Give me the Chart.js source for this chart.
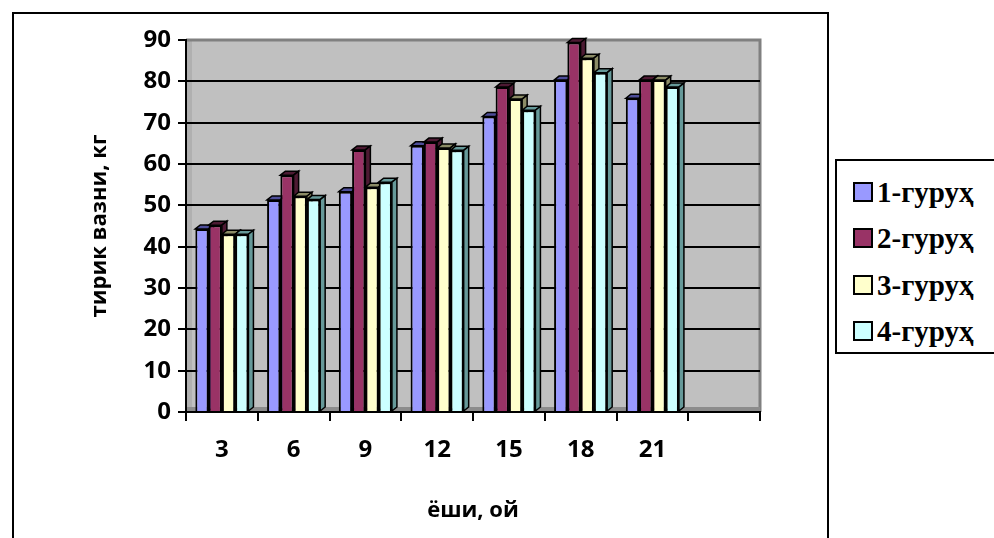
<!DOCTYPE html>
<html>
<head>
<meta charset="utf-8">
<script src="https://cdn.jsdelivr.net/npm/chart.js@4.4.1/dist/chart.umd.min.js"></script>
<style>
  body { margin: 0; background: #fff; overflow: hidden; }
  #wrap { position: relative; width: 994px; height: 538px; }
  #legend {
    position: absolute; left: 835px; top: 159px; width: 170px; height: 191px;
    border: 2px solid #000; background: #fff;
    font-family: "Liberation Serif", serif; font-weight: bold; font-size: 29px;
  }
  .item { position: absolute; left: 16px; height: 30px; line-height: 30px; white-space: nowrap; }
  .sw { display: inline-block; width: 16px; height: 16px; border: 2px solid #000; vertical-align: 0px; margin-right: 4px; }
</style>
</head>
<body>
<div id="wrap">
  <canvas id="chart" width="994" height="538"></canvas>
  <div id="legend"></div>
</div>
<script>
// ages (months) and live weight of the four groups, kg
var ages = ["3", "6", "9", "12", "15", "18", "21", ""];
var group1 = [44.3, 51.3, 53.3, 64.4, 71.5, 80.3, 75.9, null];
var group2 = [45.2, 57.3, 63.4, 65.3, 78.6, 89.4, 80.3, null];
var group3 = [43.0, 52.2, 54.4, 63.9, 75.7, 85.6, 80.3, null];
var group4 = [43.0, 51.4, 55.6, 63.3, 73.0, 82.1, 78.6, null];
var groupNames = ["1-гуруҳ", "2-гуруҳ", "3-гуруҳ", "4-гуруҳ"];

var colors = ["#9999FF", "#993366", "#FFFFCC", "#CCFFFF"];
var shades = ["#4d4d99", "#4d1a33", "#8c8c66", "#669999"];

/* ========== background, border, fake 3D ========== */

var frame = {
  id: "frame",
  beforeDraw(chart) {
    const ctx = chart.ctx, a = chart.chartArea;
    ctx.save();
    ctx.fillStyle = "#fff";
    ctx.fillRect(0, 0, chart.width, chart.height);
    ctx.strokeStyle = "#000";
    ctx.lineWidth = 2;
    ctx.strokeRect(13, 13, 815, 540);
    ctx.fillStyle = "#C0C0C0";
    ctx.fillRect(a.left, a.top, a.right - a.left, a.bottom - a.top);
    // left side wall
    ctx.fillStyle = "#b0b0b0";
    ctx.fillRect(a.left, a.top, 6, a.bottom - a.top);
    ctx.strokeStyle = "#808080";
    ctx.lineWidth = 3;
    ctx.beginPath();
    ctx.moveTo(a.left, a.top);
    ctx.lineTo(a.right, a.top);
    ctx.lineTo(a.right, a.bottom);
    ctx.stroke();
    // floor strip
    ctx.fillStyle = "#8c8c8c";
    ctx.fillRect(a.left, a.bottom - 5, a.right - a.left, 5);
    ctx.restore();
  },
  beforeDatasetsDraw(chart) {
    const ctx = chart.ctx;
    const dx = 5, dy = 4;
    ctx.save();
    ctx.strokeStyle = "#000";
    ctx.lineWidth = 1.5;
    chart.data.datasets.forEach((ds, i) => {
      chart.getDatasetMeta(i).data.forEach((bar, j) => {
        if (ds.data[j] == null || isNaN(bar.y)) return;
        const l = bar.x - bar.width / 2, r = bar.x + bar.width / 2;
        const y = bar.y, b = bar.base;
        ctx.fillStyle = shades[i];
        ctx.beginPath();
        ctx.moveTo(l, y); ctx.lineTo(l + dx, y - dy); ctx.lineTo(r + dx, y - dy); ctx.lineTo(r, y);
        ctx.closePath(); ctx.fill(); ctx.stroke();
        ctx.beginPath();
        ctx.moveTo(r, y); ctx.lineTo(r + dx, y - dy); ctx.lineTo(r + dx, b - dy); ctx.lineTo(r, b);
        ctx.closePath(); ctx.fill(); ctx.stroke();
      });
    });
    ctx.restore();
  }
};

var tickFont = { family: "'Open Sans', sans-serif", weight: "bold", size: 24 };
var titleFont = { family: "'Open Sans', sans-serif", weight: "bold", size: 22 };

new Chart(document.getElementById("chart"), {
  type: "bar",
  data: {
    labels: ages,
    datasets: [group1, group2, group3, group4].map((d, i) => ({
      label: groupNames[i],
      data: d,
      backgroundColor: colors[i],
      borderColor: "#000",
      borderWidth: 2,
      categoryPercentage: 0.74,
      barPercentage: 1
    }))
  },
  options: {
    responsive: false,
    animation: false,
    layout: { padding: { left: 84, top: 40, right: 234, bottom: 14 } },
    plugins: { legend: { display: false }, tooltip: { enabled: false } },
    scales: {
      x: {
        grid: { offset: true, drawOnChartArea: false, color: "#000", lineWidth: 2, tickLength: 9 },
        border: { color: "#000", width: 2 },
        ticks: { font: tickFont, color: "#000", padding: 15, maxRotation: 0 },
        title: { display: true, text: "ёши, ой", font: titleFont, color: "#000", padding: { top: 0, bottom: 0 } },
        afterFit: s => { s.height = 112; }
      },
      y: {
        min: 0, max: 90,
        ticks: { stepSize: 10, font: tickFont, color: "#000", padding: 7 },
        grid: {
          color: c => c.tick && c.tick.value === 90 ? "rgba(0,0,0,0)" : "#000",
          tickColor: "#000", lineWidth: 2, tickLength: 8
        },
        border: { color: "#000", width: 2 },
        title: { display: true, text: "тирик вазни, кг", font: titleFont, color: "#000", padding: { top: 3, bottom: 0 } },
        afterFit: s => { s.width = 102; }
      }
    }
  },
  plugins: [frame]
});

/* ========== legend ========== */
var legend = document.getElementById("legend");
var rowTops = [16, 62, 109, 155];
groupNames.forEach((name, i) => {
  const it = document.createElement("div");
  it.className = "item";
  it.style.top = rowTops[i] + "px";
  it.innerHTML = '<span class="sw" style="background:' + colors[i] + '"></span>' + name;
  legend.appendChild(it);
});
</script>
</body>
</html>
